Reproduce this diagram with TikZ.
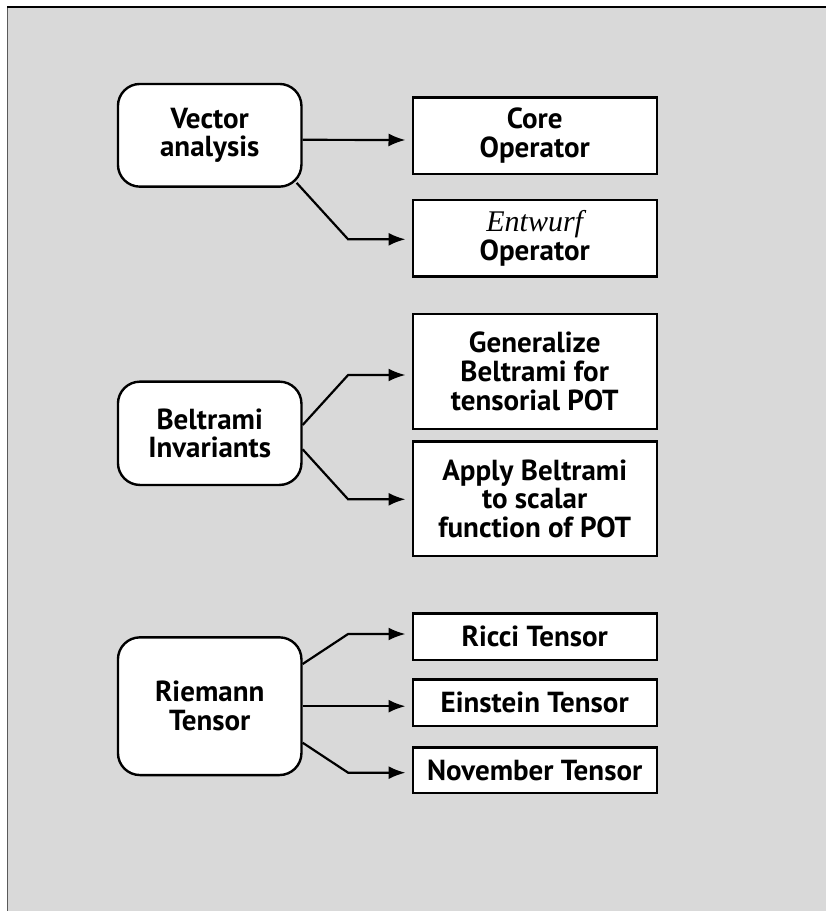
\documentclass[tikz,border=0pt]{standalone}
\usepackage{fontspec}
\setmainfont{PT Sans}
\newfontfamily\entfont{Liberation Serif}
\usetikzlibrary{arrows.meta,calc}
\definecolor{bggray}{RGB}{217,217,217}
\definecolor{edgegray}{RGB}{90,90,90}
\begin{document}
\begin{tikzpicture}[x=1pt,y=-1pt,
  boxfont/.style={font=\bfseries\fontsize{29}{28.7}\selectfont},
  rbox/.style={draw, line width=2.4pt, fill=white, rounded corners=22pt, align=center, boxfont, inner sep=0pt, minimum width=183.5pt},
  sbox/.style={draw, line width=2.4pt, fill=white, align=center, boxfont, inner sep=0pt, minimum width=244pt},
  arr/.style={line width=2.2pt, -{Latex[length=17pt,width=13pt]}, shorten >=6pt}]
\useasboundingbox (0,0) rectangle (826,911);
\fill[white] (0,0) rectangle (826,911);
\fill[bggray] (7,7) rectangle (826,911);
\draw[edgegray, line width=1pt] (7,7) -- (7,911);
\draw[black, line width=2pt] (7,7) -- (826,7);

% left nodes
\node[rbox, minimum height=102.7pt] (va) at (209.7,135.3) {Vector\\analysis};
\node[rbox, minimum height=103.3pt] (bi) at (209.7,433.3) {Beltrami\\Invariants};
\node[rbox, minimum height=137.7pt] (rt) at (209.7,706.2) {Riemann\\Tensor};

% right nodes
\node[sbox, minimum height=76.7pt] (core) at (534.7,135.7) {Core\\Operator};
\node[sbox, minimum height=76.7pt] (ent) at (534.7,238.3) {{\normalfont\entfont\itshape\fontsize{30}{28.7}\selectfont Entwurf}\\Operator};
\node[sbox, minimum height=115pt] (gen) at (534.7,371.5) {Generalize\\Beltrami for\\tensorial POT};
\node[sbox, minimum height=114.3pt] (app) at (534.7,498.8) {Apply Beltrami\\to scalar\\function of POT};
\node[sbox, minimum height=46.7pt] (ricci) at (534.7,636.7) {Ricci Tensor};
\node[sbox, minimum height=46.7pt] (ein) at (534.7,702.7) {Einstein Tensor};
\node[sbox, minimum height=45.4pt] (nov) at (534.7,770) {November Tensor};

% connectors
\draw[arr] ($(va.east)+(0,4.5)$) -- ($(core.west)+(0,4.3)$);
\draw[arr] ($(va.south east)+(-6,-5)$) -- ($(ent.west)+(-63.4,1)$) -- ($(ent.west)+(0,1)$);
\draw[arr] ($(bi.east)+(0,-8.3)$) -- ($(gen.west)+(-63.4,3.5)$) -- ($(gen.west)+(0,3.5)$);
\draw[arr] ($(bi.east)+(0,16)$) -- ($(app.west)+(-63.4,0.5)$) -- ($(app.west)+(0,0.5)$);
\draw[arr] ($(rt.east)+(0,-42.2)$) -- ($(ricci.west)+(-63.4,-2.7)$) -- ($(ricci.west)+(0,-2.7)$);
\draw[arr] (rt.east) -- (rt.east -| ein.west);
\draw[arr] ($(rt.east)+(0,36.5)$) -- ($(nov.west)+(-63.4,2.7)$) -- ($(nov.west)+(0,2.7)$);
\end{tikzpicture}
\end{document}
